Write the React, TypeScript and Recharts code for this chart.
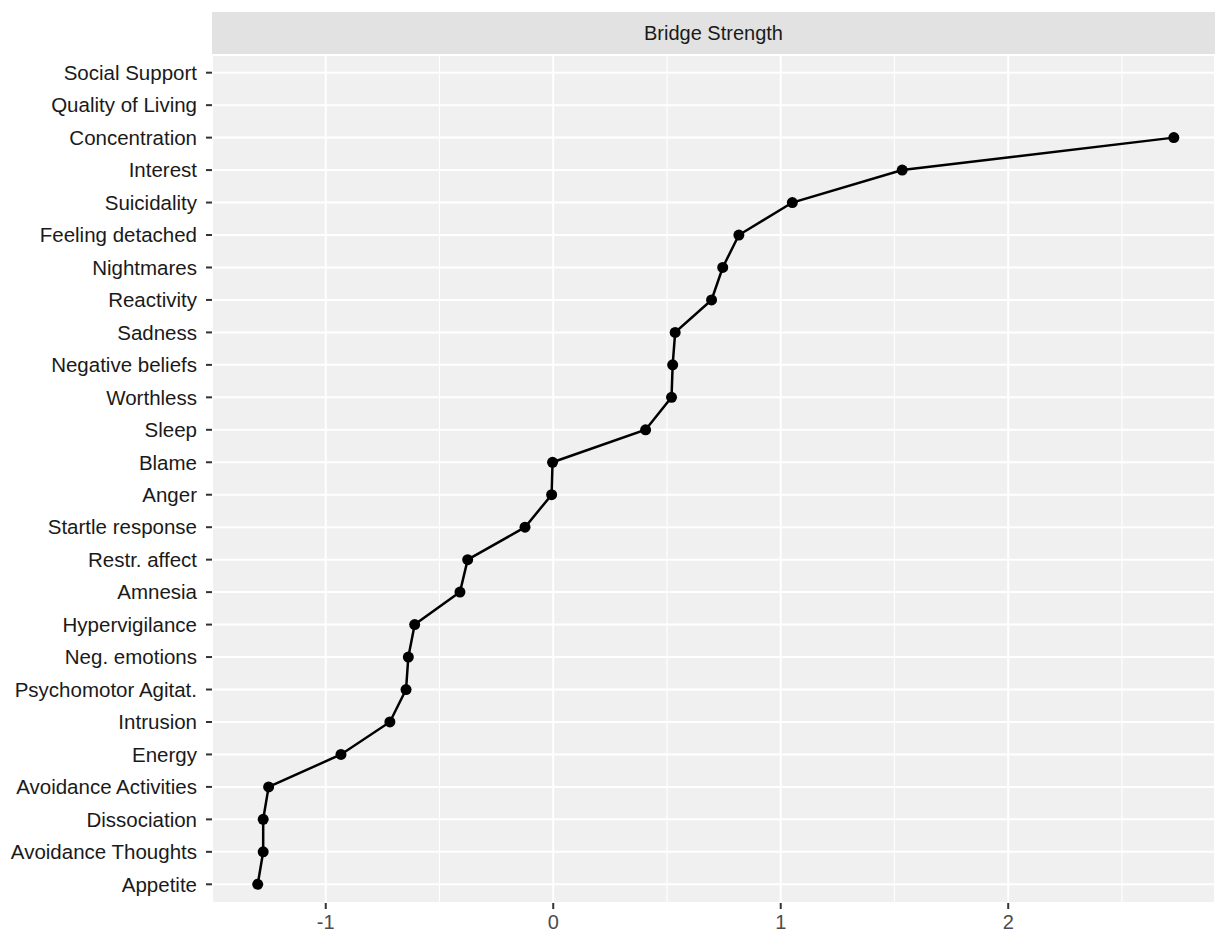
import React from "react";
import {
  ScatterChart,
  Scatter,
  XAxis,
  YAxis,
  CartesianGrid,
  ReferenceLine,
} from "recharts";

// Categories, top to bottom as shown
const categories: string[] = [
  "Social Support",
  "Quality of Living",
  "Concentration",
  "Interest",
  "Suicidality",
  "Feeling detached",
  "Nightmares",
  "Reactivity",
  "Sadness",
  "Negative beliefs",
  "Worthless",
  "Sleep",
  "Blame",
  "Anger",
  "Startle response",
  "Restr. affect",
  "Amnesia",
  "Hypervigilance",
  "Neg. emotions",
  "Psychomotor Agitat.",
  "Intrusion",
  "Energy",
  "Avoidance Activities",
  "Dissociation",
  "Avoidance Thoughts",
  "Appetite",
];

// Bridge strength values (null = no value drawn)
const bridgeStrength: (number | null)[] = [
  null,
  null,
  2.728,
  1.534,
  1.051,
  0.816,
  0.745,
  0.696,
  0.536,
  0.525,
  0.52,
  0.406,
  -0.003,
  -0.007,
  -0.124,
  -0.376,
  -0.41,
  -0.609,
  -0.637,
  -0.647,
  -0.718,
  -0.933,
  -1.251,
  -1.275,
  -1.275,
  -1.299,
];

const xTicks: number[] = [-1, 0, 1, 2];
const xMinorTicks: number[] = [-0.5, 0.5, 1.5, 2.5];
const panelTitle = "Bridge Strength";

const n = categories.length;
const yTicks: number[] = categories.map((_, i) => n - 1 - i);

const points = categories
  .map((c, i) => ({ name: c, pos: n - 1 - i, value: bridgeStrength[i] }))
  .filter((d) => d.value !== null);

const labelFor = (v: number) => categories[n - 1 - Math.round(v)] ?? "";

const FONT = '"Liberation Sans", Arial, Helvetica, sans-serif';

const Dot = (props: any) => {
  const { cx, cy } = props;
  if (cx == null || cy == null) return null;
  return <circle cx={cx} cy={cy} r={5.5} fill="#000" />;
};

export default function App() {
  return (
    <div
      style={{
        position: "absolute",
        left: 0,
        top: 0,
        width: 1215,
        height: 934,
        background: "#fff",
        fontFamily: FONT,
        overflow: "hidden",
      }}
    >
      <div
        style={{
          position: "absolute",
          left: 212,
          top: 12,
          width: 1003,
          height: 43,
          background: "#E2E2E2",
          color: "#1A1A1A",
          fontSize: 20,
          lineHeight: "43px",
          textAlign: "center",
          fontFamily: FONT,
        }}
      >
        {panelTitle}
      </div>
      <ScatterChart
        width={1215}
        height={934}
        margin={{ top: 55, right: 0, bottom: 0, left: 0 }}
        style={{ position: "absolute", left: 0, top: 0 }}
      >
        <CartesianGrid
          fill="#F0F0F0"
          stroke="#FFFFFF"
          strokeWidth={2}
          horizontal={true}
          vertical={true}
        />
        {xMinorTicks.map((t) => (
          <ReferenceLine
            key={t}
            x={t}
            stroke="#FFFFFF"
            strokeWidth={1.1}
            ifOverflow="hidden"
          />
        ))}
        <XAxis
          type="number"
          dataKey="value"
          domain={[-1.5, 2.909]}
          allowDataOverflow
          ticks={xTicks}
          height={31}
          axisLine={false}
          tickLine={{ stroke: "#333333", strokeWidth: 2 }}
          tickSize={6}
          tickMargin={6}
          tick={{ fill: "#4D4D4D", fontSize: 20, fontFamily: FONT }}
        />
        <YAxis
          type="number"
          dataKey="pos"
          domain={[-0.576, 25.545]}
          allowDataOverflow
          ticks={yTicks}
          interval={0}
          width={212}
          axisLine={false}
          tickLine={{ stroke: "#333333", strokeWidth: 2 }}
          tickSize={6}
          tickMargin={9}
          tickFormatter={labelFor}
          tick={{ fill: "#1A1A1A", fontSize: 20.5, fontFamily: FONT }}
        />
        <Scatter
          data={points}
          line={{ stroke: "#000000", strokeWidth: 2.5 }}
          lineType="joint"
          shape={<Dot />}
          isAnimationActive={false}
        />
      </ScatterChart>
    </div>
  );
}
